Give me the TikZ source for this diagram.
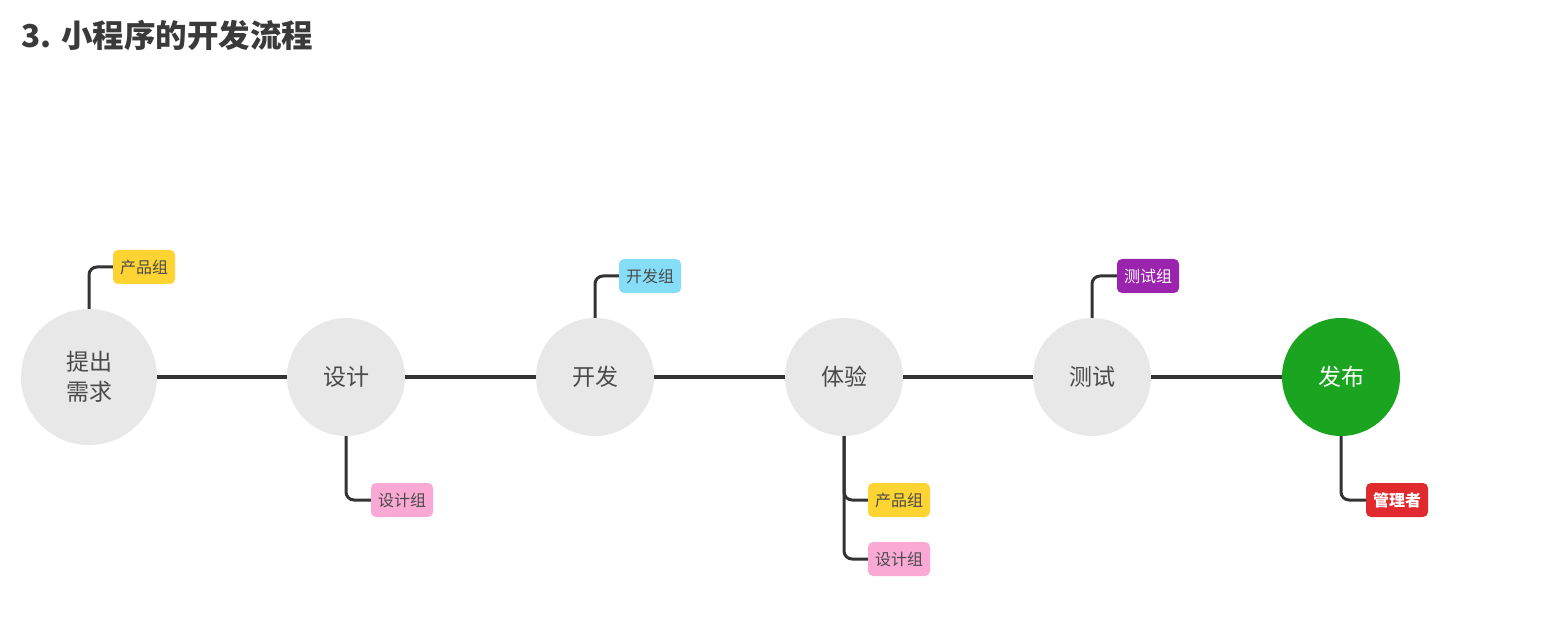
\documentclass[tikz,border=0pt]{standalone}
\usepackage{fontspec}
\newfontfamily\cjk{Noto Sans CJK SC}
\definecolor{linegray}{HTML}{333333}
\definecolor{circgray}{HTML}{E8E8E8}
\definecolor{txtgray}{HTML}{4A4A4A}
\definecolor{titlegray}{HTML}{3A3A3A}
\definecolor{pubgreen}{HTML}{1BA41F}
\definecolor{tagyellow}{HTML}{FDD431}
\definecolor{tagpink}{HTML}{F9A9D3}
\definecolor{tagblue}{HTML}{86DDF7}
\definecolor{tagpurple}{HTML}{9A24AE}
\definecolor{tagred}{HTML}{E02A2E}
\tikzset{
  stage/.style={circle, fill=circgray, draw=none, inner sep=0pt,
    minimum size=118pt, font=\cjk\fontsize{23}{30}\selectfont, text=txtgray, align=center},
  tag/.style={rectangle, rounded corners=5pt, minimum width=62pt, minimum height=34pt,
    inner sep=0pt, font=\cjk\fontsize{16}{19}\selectfont, text=txtgray},
  mainline/.style={draw=linegray, line width=3.5pt},
  branch/.style={draw=linegray, line width=3pt, rounded corners=8pt}
}
\begin{document}
\begin{tikzpicture}[x=1pt,y=-1pt]
\useasboundingbox (0,0) rectangle (1559,620);
\fill[white] (0,0) rectangle (1559,620);

% heading
\node[anchor=west, inner sep=0pt, text=titlegray, font=\cjk\bfseries\fontsize{31.5}{36}\selectfont]
  (title) at (21,35) {3. 小程序的开发流程};

% stages
\node[stage, minimum size=136pt] (req) at (89,377) {提出\\需求};
\node[stage] (des) at (346,377) {设计};
\node[stage] (dev) at (595,377) {开发};
\node[stage] (exp) at (844,377) {体验};
\node[stage] (tst) at (1092,377) {测试};
\node[stage, fill=pubgreen, text=white] (pub) at (1341,377) {发布};

% team tags
\node[tag, fill=tagyellow] (tReq) at (144,267) {产品组};
\node[tag, fill=tagpink] (tDes) at (402,500) {设计组};
\node[tag, fill=tagblue] (tDev) at (650,276) {开发组};
\node[tag, fill=tagyellow] (tExpA) at (899,500) {产品组};
\node[tag, fill=tagpink] (tExpB) at (899,559) {设计组};
\node[tag, fill=tagpurple, text=white] (tTst) at (1148,276) {测试组};
\node[tag, fill=tagred, text=white, font=\cjk\bfseries\fontsize{16}{19}\selectfont] (tPub) at (1397,500) {管理者};

% main flow
\draw[mainline] (req) -- (des);
\draw[mainline] (des) -- (dev);
\draw[mainline] (dev) -- (exp);
\draw[mainline] (exp) -- (tst);
\draw[mainline] (tst) -- (pub);

% branches to tags
\draw[branch] (req.north) |- (tReq.west);
\draw[branch] (des.south) |- (tDes.west);
\draw[branch] (dev.north) |- (tDev.west);
\draw[branch] (exp.south) |- (tExpB.west);
\draw[branch] (exp.south) |- (tExpA.west);
\draw[branch] (tst.north) |- (tTst.west);
\draw[branch] (pub.south) |- (tPub.west);
\end{tikzpicture}
\end{document}
